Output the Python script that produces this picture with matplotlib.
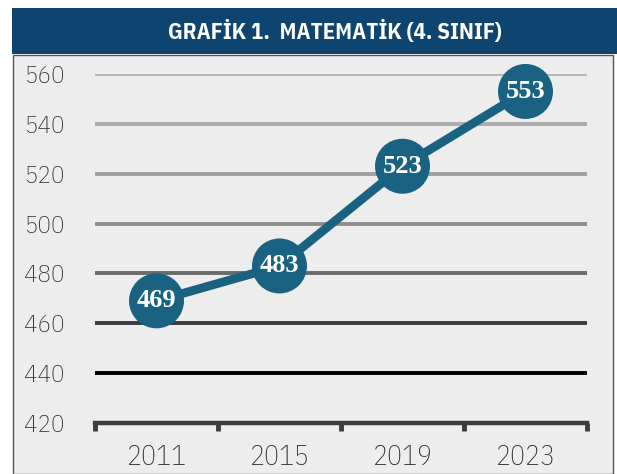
import numpy as np
import matplotlib.pyplot as plt
from matplotlib.patches import Rectangle

years = ["2011", "2015", "2019", "2023"]
scores = [469, 483, 523, 553]
grid_vals = [440, 460, 480, 500, 520, 540, 560]
grid_cols = ["#000000", "#3a3c3f", "#6b6b6b", "#8e8e8e", "#a0a0a0", "#ababab", "#b6b6b6"]
title = "GRAFİK 1.  MATEMATİK (4. SINIF)"

W, H = 617, 474
fig = plt.figure(figsize=(W / 100, H / 100), dpi=100)
fig.patch.set_facecolor("white")

def fx(px): return px / W
def fy(py): return 1 - py / H

# panel + header band
fig.patches.append(Rectangle((fx(13), 0), fx(613) - fx(13), fy(55), transform=fig.transFigure,
                             facecolor="#ededed", edgecolor="#555555", lw=1.0, zorder=-2))
fig.patches.append(Rectangle((fx(12), fy(54)), 1, fy(8) - fy(54), transform=fig.transFigure,
                             facecolor="#0e4470", edgecolor="none", zorder=-1))
fig.text(fx(335), fy(31), title, color="white", fontsize=16.5, fontweight="bold",
         family=["IBM Plex Sans Condensed", "DejaVu Sans"], ha="center", va="center")

ax = fig.add_axes([fx(95), fy(423), fx(587) - fx(95), fy(74) - fy(423)])
ax.set_zorder(2)
ax.set_facecolor("none")
x = np.arange(len(years))
ax.set_xlim(-0.5, 3.5)
ax.set_ylim(420, 560)

for v, c in zip(grid_vals, grid_cols):
    ax.axhline(v, color=c, lw=2.8, zorder=1, solid_capstyle="butt")

for s in ["top", "right", "left"]:
    ax.spines[s].set_visible(False)
ax.spines["bottom"].set_color("#3a3d40")
ax.spines["bottom"].set_linewidth(3.2)

tick_font = dict(family=["IBM Plex Sans Condensed", "DejaVu Sans"], weight="light")
ax.set_xticks(x)
ax.set_xticklabels(years, fontsize=20, color="#2a2a2a", **tick_font)
ax.tick_params(axis="x", which="major", length=0, pad=15)
ax.set_xticks(np.arange(-0.5, 4, 1), minor=True)
ax.tick_params(axis="x", which="minor", length=6, width=3.5, color="#3a3d40", direction="out")

ax.set_yticks(np.arange(420, 561, 20))
ax.set_yticklabels([str(v) for v in range(420, 561, 20)], fontsize=18, color="#2a2a2a", **tick_font)
ax.tick_params(axis="y", length=0, pad=22)

ax.plot(x, scores, color="#1a6282", lw=6.3, zorder=3, clip_on=False, solid_capstyle="butt")
ax.scatter(x, scores, s=(55 * 0.72) ** 2, color="#1a6282", zorder=4, clip_on=False, edgecolors="none")
for xi, v in zip(x, scores):
    ax.text(xi, v, str(v), ha="center", va="center", color="white", fontsize=19,
            fontweight="bold", family="Liberation Serif", zorder=5)

fig.savefig("out.png", dpi=100)
